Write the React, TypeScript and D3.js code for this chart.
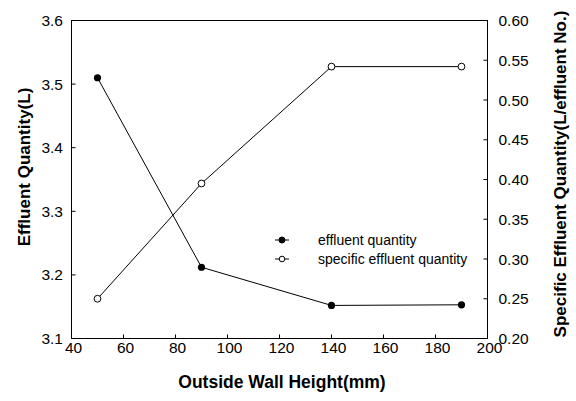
import React from "react";
import * as d3 from "d3";

const heights = [50, 90, 140, 190];
const effluentQuantity = [3.51, 3.212, 3.152, 3.153];
const specificQuantity = [0.25, 0.395, 0.542, 0.542];
const xTicks = [40, 60, 80, 100, 120, 140, 160, 180, 200];
const leftTicks = [3.1, 3.2, 3.3, 3.4, 3.5, 3.6];
const rightTicks = [0.2, 0.25, 0.3, 0.35, 0.4, 0.45, 0.5, 0.55, 0.6];
const seriesNames = ["effluent quantity", "specific effluent quantity"];

const W = 576;
const H = 401;
const M = { left: 71.5, right: 487.5, top: 20.5, bottom: 338.5 };
const FONT = "'Liberation Sans', Arial, Helvetica, sans-serif";

export default function App() {
  const x = d3.scaleLinear().domain([40, 200]).range([M.left, M.right]);
  const yL = d3.scaleLinear().domain([3.1, 3.6]).range([M.bottom, M.top]);
  const yR = d3.scaleLinear().domain([0.2, 0.6]).range([M.bottom, M.top]);

  const lineL = d3
    .line<number>()
    .x((_, i) => x(heights[i]))
    .y((d) => yL(d));
  const lineR = d3
    .line<number>()
    .x((_, i) => x(heights[i]))
    .y((d) => yR(d));

  const tickLen = 4;
  const legX = 275;
  const legY = [240, 259];

  return (
    <svg
      width={W}
      height={H}
      style={{ position: "absolute", left: 0, top: 0, background: "#fff" }}
      fontFamily={FONT}
    >
      <rect x={0} y={0} width={W} height={H} fill="#fff" />
      {/* frame */}
      <rect
        x={M.left}
        y={M.top}
        width={M.right - M.left}
        height={M.bottom - M.top}
        fill="none"
        stroke="#000"
        strokeWidth={1}
      />

      {/* bottom axis */}
      {xTicks.map((t) => (
        <g key={"x" + t}>
          <line x1={x(t)} x2={x(t)} y1={M.bottom} y2={M.bottom - tickLen} stroke="#000" />
          <text x={x(t) + 2} y={352.5} fontSize={15.5} textAnchor="middle" fill="#000">
            {t}
          </text>
        </g>
      ))}

      {/* left axis */}
      {leftTicks.map((t) => (
        <g key={"l" + t}>
          <line x1={M.left} x2={M.left + tickLen} y1={yL(t)} y2={yL(t)} stroke="#000" />
          <text
            x={63}
            y={yL(t)}
            dy="0.36em"
            fontSize={15.5}
            textAnchor="end"
            fill="#000"
          >
            {d3.format(".1f")(t)}
          </text>
        </g>
      ))}

      {/* right axis */}
      {rightTicks.map((t) => (
        <g key={"r" + t}>
          <line x1={M.right} x2={M.right - tickLen} y1={yR(t)} y2={yR(t)} stroke="#000" />
          <text
            x={498.5}
            y={yR(t)}
            dy="0.36em"
            fontSize={15.5}
            textAnchor="start"
            fill="#000"
          >
            {d3.format(".2f")(t)}
          </text>
        </g>
      ))}

      {/* axis titles */}
      <text
        x={282}
        y={388}
        fontSize={17.5}
        fontWeight="bold"
        textAnchor="middle"
        fill="#000"
      >
        Outside Wall Height(mm)
      </text>
      <text
        transform={`translate(29.5,167) rotate(-90)`}
        fontSize={17}
        fontWeight="bold"
        textAnchor="middle"
        fill="#000"
      >
        Effluent Quantity(L)
      </text>
      <text
        transform={`translate(565.5,174) rotate(-90)`}
        fontSize={17}
        fontWeight="bold"
        textAnchor="middle"
        fill="#000"
      >
        Specific Effluent Quantity(L/effluent No.)
      </text>

      {/* series */}
      <path d={lineL(effluentQuantity) ?? ""} fill="none" stroke="#000" strokeWidth={1} />
      <path d={lineR(specificQuantity) ?? ""} fill="none" stroke="#000" strokeWidth={1} />
      {effluentQuantity.map((v, i) => (
        <circle key={"e" + i} cx={x(heights[i])} cy={yL(v)} r={3.6} fill="#000" />
      ))}
      {specificQuantity.map((v, i) => (
        <circle
          key={"s" + i}
          cx={x(heights[i])}
          cy={yR(v)}
          r={3.4}
          fill="#fff"
          stroke="#000"
          strokeWidth={1}
        />
      ))}

      {/* legend */}
      {seriesNames.map((name, i) => (
        <g key={name}>
          <line x1={legX} x2={legX + 14} y1={legY[i]} y2={legY[i]} stroke="#000" />
          <circle
            cx={legX + 7}
            cy={legY[i]}
            r={i === 0 ? 3 : 2.8}
            fill={i === 0 ? "#000" : "#fff"}
            stroke="#000"
            strokeWidth={1}
          />
          <text x={318} y={legY[i]} dy="0.36em" fontSize={14} fill="#000">
            {name}
          </text>
        </g>
      ))}
    </svg>
  );
}
